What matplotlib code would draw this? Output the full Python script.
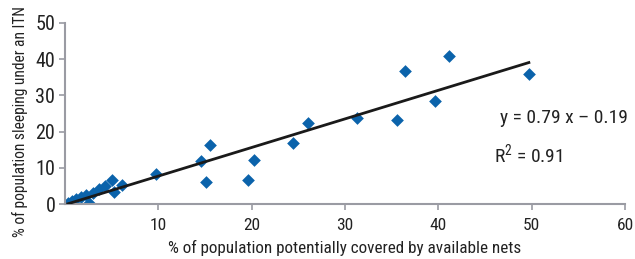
import matplotlib
matplotlib.use("Agg")
import matplotlib.pyplot as plt
import numpy as np

plt.rcParams['font.family'] = ['Roboto Condensed', 'DejaVu Sans']
plt.rcParams['mathtext.fontset'] = 'custom'
plt.rcParams['mathtext.rm'] = 'Roboto Condensed'

x_covered = [0.3, 0.8, 1.2, 1.7, 2.2, 2.6, 3.0, 3.6, 4.3, 5.0, 5.3, 6.1, 9.8,
             14.6, 15.1, 15.5, 19.6, 20.2, 24.4, 26.0, 31.3, 35.6, 36.4, 39.6, 41.1, 49.7]
y_sleeping = [0.2, 0.8, 1.3, 1.9, 2.4, 0.3, 3.0, 4.1, 5.0, 6.7, 3.2, 5.2, 8.2,
              12.0, 6.0, 16.2, 6.6, 12.2, 16.8, 22.3, 23.7, 23.2, 36.7, 28.5, 40.9, 36.0]
slope = 0.79
intercept = -0.19
r2 = 0.91
x_ticks = [10, 20, 30, 40, 50, 60]
y_ticks = [0, 10, 20, 30, 40, 50]

fig = plt.figure(figsize=(6.35, 2.59), dpi=100)
ax = fig.add_axes([65/635, 1-204/259, 560/635, 181/259])

ax.scatter(x_covered, y_sleeping, marker='D', s=42, color='#0b63ab', zorder=2, linewidths=0)
xl = np.array([min(x_covered), max(x_covered)])
ax.plot(xl, slope*xl + intercept, color='#1a1a1a', lw=2.0, zorder=3)

ax.set_xlim(0, 60)
ax.set_ylim(0, 50)
ax.set_xticks(x_ticks)
ax.set_yticks(y_ticks)
for s in ['top', 'right']:
    ax.spines[s].set_visible(False)
for s in ['left', 'bottom']:
    ax.spines[s].set_color('#9a9ba3')
    ax.spines[s].set_linewidth(1.5)
ax.tick_params(axis='both', colors='#9a9ba3', length=4, width=1.2, labelcolor='#222222')
ax.tick_params(axis='y', labelsize=14.5, pad=3)
ax.tick_params(axis='x', labelsize=12.5, pad=6)

ax.set_xlabel('% of population potentially covered by available nets', fontsize=12.3, color='#222222', labelpad=5)
ax.set_ylabel('% of population sleeping under an ITN', fontsize=11.2, color='#222222')
ax.yaxis.set_label_coords(-0.066, 0.455)

ax.text(46.6, 23.8, f'y = {slope:.2f} x \u2013 {abs(intercept):.2f}', fontsize=14,
        va='center', ha='left', color='#222222')
ax.text(46.0, 13.5, f'R$^2$ = {r2:.2f}', fontsize=14, va='center', ha='left', color='#222222')

fig.savefig('out.png', dpi=100)
